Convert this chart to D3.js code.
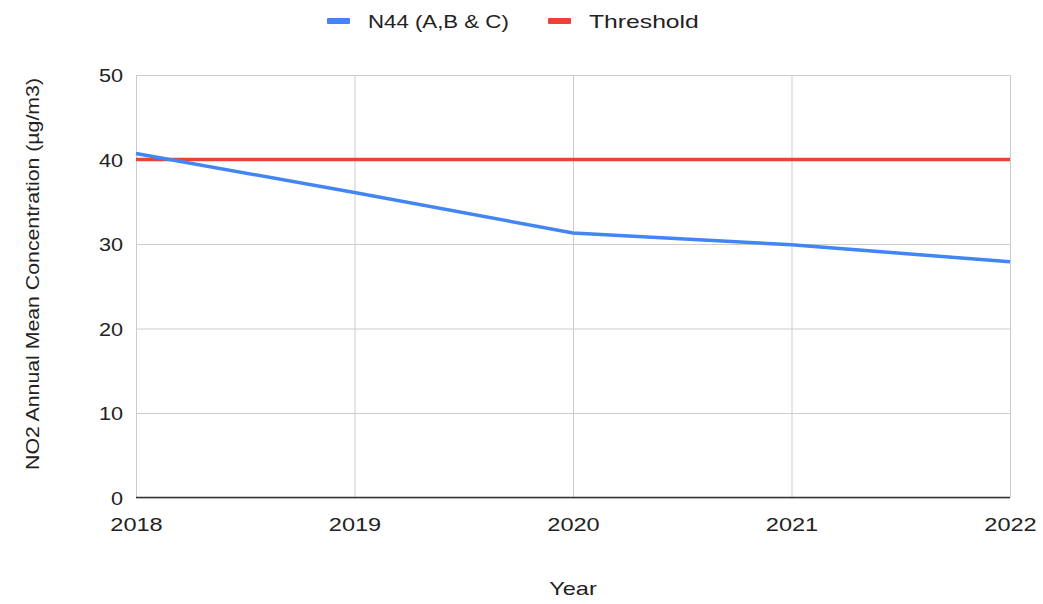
<!DOCTYPE html>
<html>
<head>
<meta charset="utf-8">
<script src="https://cdn.jsdelivr.net/npm/d3@7"></script>
<style>
  body { margin: 0; background: #fff; }
  svg text { font-family: "Liberation Sans", Arial, sans-serif; fill: #222; }
</style>
</head>
<body>
<div id="chart-area"></div>
<script>
const years = [2018, 2019, 2020, 2021, 2022];
const n44 = [40.7, 36.1, 31.3, 29.9, 27.9];
const threshold = [40, 40, 40, 40, 40];
const yTicks = [0, 10, 20, 30, 40, 50];
const seriesNames = ["N44 (A,B & C)", "Threshold"];
const seriesColors = ["#4285f4", "#ea4335"];

const W = 1043, H = 604;
const margin = { left: 136, right: 33, top: 75, bottom: 106.5 };
const width = W - margin.left - margin.right,
    height = H - margin.top - margin.bottom;
const stretchK = 1.24;

// the reference text is a bit wider than the font, widen glyphs
function stretch(sel, k) {
    sel.each(function () {
        const len = this.getComputedTextLength();
        d3.select(this).attr("textLength", len * k).attr("lengthAdjust", "spacingAndGlyphs");
    });
}

const svg = d3.select("#chart-area").append("svg")
    .attr("width", W).attr("height", H);

const g = svg.append("g")
    .attr("transform", `translate(${margin.left}, ${margin.top})`);

const x = d3.scaleLinear().domain([years[0], years[years.length - 1]]).range([0, width]);
const y = d3.scaleLinear().domain([0, 50]).range([height, 0]);

// grid
g.append("g")
    .call(d3.axisLeft(y).tickValues(yTicks).tickSize(-width).tickFormat(""))
    .call(s => s.select(".domain").remove())
    .selectAll("line").attr("stroke", "#cccccc");

g.append("g")
    .attr("transform", `translate(0, ${height})`)
    .call(d3.axisBottom(x).tickValues(years).tickSize(-height).tickFormat(""))
    .call(s => s.select(".domain").remove())
    .selectAll("line").attr("stroke", "#cccccc");

// y labels
g.append("g")
    .call(d3.axisLeft(y).tickValues(yTicks).tickSize(0).tickPadding(13))
    .call(s => s.select(".domain").remove())
    .selectAll("text").style("font-size", "19px").attr("dy", "0.36em")
    .call(stretch, stretchK * 0.92);

// x labels
g.append("g")
    .attr("transform", `translate(0, ${height})`)
    .call(d3.axisBottom(x).tickValues(years).tickSize(0).tickFormat(d3.format("d")))
    .call(s => s.select(".domain").remove())
    .selectAll("text").style("font-size", "19px").attr("y", 33.5).attr("dy", null)
    .call(stretch, stretchK);

// baseline
g.append("line")
    .attr("x1", 0).attr("x2", width)
    .attr("y1", y(0)).attr("y2", y(0))
    .attr("stroke", "#333").attr("stroke-width", 1.5);

// lines (threshold under N44)
const line = d3.line().x((d, i) => x(years[i])).y(d => y(d));
[[threshold, 1], [n44, 0]].forEach(([vals, idx]) => {
    g.append("path")
        .datum(vals)
        .attr("fill", "none")
        .attr("stroke", seriesColors[idx])
        .attr("stroke-width", 3.5)
        .attr("d", line);
});

// axis titles
svg.append("text")
    .attr("x", margin.left + width / 2).attr("y", 595)
    .attr("text-anchor", "middle")
    .style("font-size", "19px")
    .text("Year")
    .call(stretch, stretchK);

svg.append("text")
    .attr("transform", `translate(39, 274) rotate(-90)`)
    .attr("text-anchor", "middle")
    .style("font-size", "19px")
    .text("NO2 Annual Mean Concentration (µg/m3)")
    .call(stretch, 1.12);

// legend
const legendX = [327, 548];
seriesNames.forEach((name, i) => {
    const lg = svg.append("g").attr("transform", `translate(${legendX[i]}, 21)`);
    lg.append("rect").attr("x", 0).attr("y", -3).attr("width", 23).attr("height", 6)
        .attr("rx", 1).attr("fill", seriesColors[i]);
    lg.append("text").attr("x", 41).attr("y", 0).attr("dy", "0.36em")
        .style("font-size", "19px").text(name)
        .call(stretch, i === 0 ? 1.17 : 1.3);
});
</script>
</body>
</html>
